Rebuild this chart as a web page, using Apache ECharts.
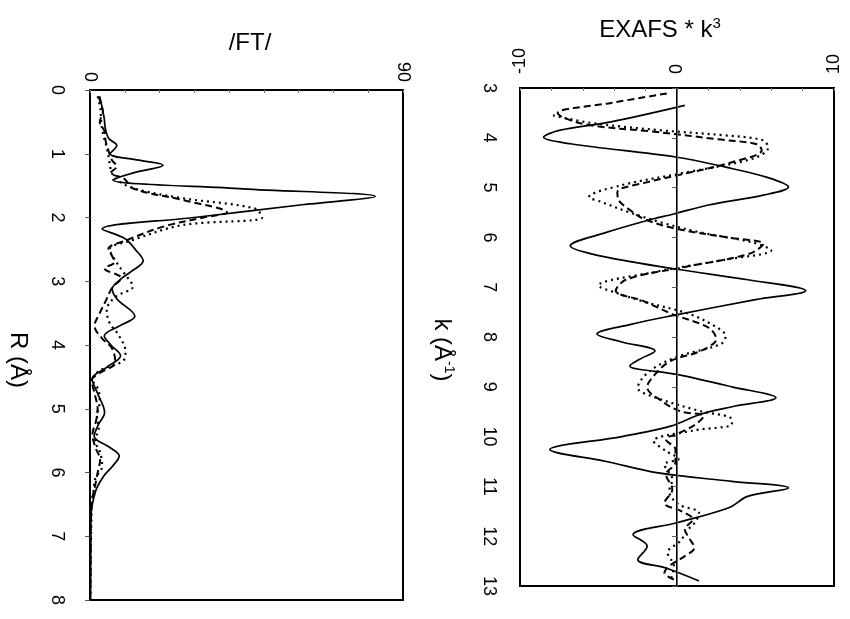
<!DOCTYPE html>
<html>
<head>
<meta charset="utf-8">
<script src="https://cdn.jsdelivr.net/npm/echarts@6/dist/echarts.min.js"></script>
<style>
html,body{margin:0;padding:0;background:#fff;}
#chart{width:850px;height:619px;}
</style>
</head>
<body>
<div id="chart"></div>
<script>
// ---- Left panel: |FT| vs R (Å) ----
const rSolid = [0.1,0.25,0.45,0.6,0.76,0.87,1.0,1.1,1.18,1.3,1.41,1.55,1.67,1.8,2.0,2.18,2.33,2.5,2.68,2.85,2.96,3.12,3.28,3.55,3.7,3.86,4.0,4.17,4.35,4.53,4.75,5.06,5.25,5.43,5.6,5.74,5.9,6.05,6.25,6.42,6.6,7.0,7.5,8.0];
const ftSolid = [2.8,3.4,4.1,4.4,5.4,7.7,5.8,14,21,12.5,6.6,44,82,61,30,3.5,10,13,15.3,11.8,9,6.4,7.8,12.9,8.5,4.1,6,8.8,4.8,0.6,2.1,4.2,2.4,1.2,5.5,8.4,6.5,4,1.9,1.0,0.4,0.2,0.2,0.1];

const rDash = [0.1,0.2,0.35,0.5,0.65,0.8,0.95,1.1,1.2,1.3,1.39,1.55,1.73,1.92,2.0,2.13,2.36,2.49,2.6,2.7,2.8,2.95,3.1,3.3,3.5,3.7,3.9,4.05,4.27,4.45,4.55,4.8,5.0,5.2,5.4,5.6,5.8,6.0,6.2,6.4,6.6,8.0];
const ftDash = [2.4,3.1,3.7,2.8,4.2,4.5,5.3,6.3,7.7,5.9,9.8,12.6,27,39.4,32.7,21.9,10.3,5.3,6.3,7.1,4.2,9,6.4,4.6,2.8,1.3,3.5,6.3,7.3,2.5,0.5,1.5,2.2,1.7,0.7,1.5,2.9,2.2,1.5,0.7,0.3,0.1];

const rDot = [0.1,0.3,0.5,0.7,0.9,1.1,1.25,1.4,1.55,1.7,1.86,2.0,2.12,2.36,2.5,2.65,2.85,3.0,3.08,3.25,3.45,3.65,3.85,4.1,4.25,4.4,4.55,4.7,4.9,5.1,5.3,5.5,5.7,5.9,6.1,6.3,6.5,8.0];
const ftDot = [2.2,3.0,3.2,3.8,4.8,5.5,6.0,7.5,13,27,47.5,49.5,26.5,11.9,5.6,7,9.5,11.6,12.4,7.2,4.8,5.6,8.3,10.2,9.5,2.8,0.8,2.4,2.8,2.0,2.5,1.5,3.0,3.5,1.5,1.0,0.5,0.1];

// ---- Right panel: EXAFS * k^3 vs k (Å^-1) ----
const kSolid = [3.35,3.68,3.85,3.99,4.12,4.39,4.59,4.8,4.99,5.15,5.35,5.53,5.66,5.9,6.17,6.35,6.63,6.85,7.07,7.25,7.57,7.75,7.94,8.1,8.28,8.45,8.58,8.75,9.0,9.22,9.4,9.55,9.79,10.0,10.26,10.5,10.73,10.9,11.03,11.2,11.43,11.73,11.97,12.2,12.47,12.64,12.9];
const exSolid = [0.5,-4.2,-7.5,-8.5,-6.8,0,3.1,5.8,7.1,5.5,2.0,-0.2,-1.9,-4.5,-6.8,-5.2,-0.2,4.5,8.2,5.0,-0.3,-3.0,-5.1,-3.5,-1.4,-2.4,-3.0,0,3.5,6.3,3.5,1.5,-0.4,-3.5,-8.1,-4.5,-1.2,3.5,7.1,4.5,3.3,0,-2.8,-1.9,-2.5,-0.7,1.4];

const kDash = [3.11,3.3,3.5,3.6,3.75,3.87,4.03,4.13,4.25,4.49,4.72,4.9,5.09,5.26,5.45,5.63,5.83,6.0,6.13,6.33,6.6,6.84,7.07,7.27,7.54,7.81,8.04,8.28,8.48,8.75,9.01,9.28,9.49,9.59,9.75,9.92,10.06,10.26,10.52,10.76,11.06,11.33,11.5,11.66,11.87,12.05,12.23,12.4,12.6,12.74,12.87];
const exDash = [-0.65,-4.2,-7.6,-7.2,-5.5,-1.7,2.6,5.1,5.4,3.5,0.5,-2.0,-3.8,-3.7,-3.0,-2.1,0,3.2,5.5,4.6,0.4,-3.2,-3.9,-2.2,-0.3,2.0,2.5,1.5,-0.4,-1.4,-1.9,-1.0,0.2,1.7,1.2,0.2,-0.7,-0.1,-0.1,-0.7,-0.3,-0.8,0.3,1.0,0.5,0.8,1.1,0.5,-0.5,-0.8,-0.2];

const kDot = [3.55,3.7,3.85,3.95,4.05,4.2,4.42,4.7,4.95,5.19,5.29,5.5,5.7,5.9,6.1,6.26,6.45,6.7,6.97,7.1,7.3,7.54,7.8,7.98,8.14,8.41,8.7,9.02,9.2,9.49,9.62,9.75,9.88,10.09,10.29,10.45,10.56,10.86,11.1,11.36,11.53,11.7,11.87,12.1,12.33,12.6,12.87];
const exDot = [-7.9,-5.5,-1.0,3.0,5.5,5.8,4.8,0.5,-3.5,-5.6,-4.8,-3.0,-1.0,1.5,4.8,6.0,3.0,-1.5,-5.0,-4.0,-2.0,0.8,2.5,3.1,2.8,-0.1,-1.8,-2.5,-1.5,1.5,3.4,3.5,1.0,-1.5,-0.7,0.1,-0.8,-0.3,-0.5,0.1,1.4,1.2,0.7,0.2,-0.6,-0.2,-0.4];

// axis tick labels shown
const ftTickLabels = [0, 90];
const exTickLabels = [-10, 0, 10];

const FONT = "'Liberation Sans', Arial, sans-serif";
function pairs(xs, ys){ return xs.map((x,i)=>[x, ys[i]]); }

const chart = echarts.init(document.getElementById('chart'), null, {renderer:'canvas'});

const labelStyle = {fontFamily: FONT, fontSize: 18, fontWeight: 'normal', color: '#000'};

function lineSeries(xi, yi, data, type, width){
  return {
    type: 'line', xAxisIndex: xi, yAxisIndex: yi, data: data,
    showSymbol: false, smooth: 0.35, animation: false,
    lineStyle: {color: '#000', width: width, type: type}
  };
}

const option = {
  backgroundColor: '#fff',
  animation: false,
  grid: [
    {left: 90, top: 90, width: 313, height: 510, show: true, borderColor: '#000', borderWidth: 2, backgroundColor: 'transparent'},
    {left: 520, top: 88, width: 314, height: 498, show: true, borderColor: '#000', borderWidth: 2, backgroundColor: 'transparent'}
  ],
  xAxis: [
    {type: 'value', gridIndex: 0, position: 'top', min: 0, max: 90, interval: 10,
     axisLine: {show: true, lineStyle: {color: '#000', width: 2}},
     axisTick: {show: true, inside: true, length: 3, lineStyle: {color: '#777'}},
     splitLine: {show: false},
     axisLabel: Object.assign({rotate: -90, margin: 8,
       formatter: v => ftTickLabels.includes(v) ? String(v) : ''}, labelStyle)},
    {type: 'value', gridIndex: 1, position: 'top', min: -10, max: 10, interval: 2,
     axisLine: {show: true, lineStyle: {color: '#000', width: 2}},
     axisTick: {show: true, inside: true, length: 3, lineStyle: {color: '#777'}},
     splitLine: {show: false},
     axisLabel: Object.assign({rotate: -90, margin: 14,
       formatter: v => exTickLabels.includes(v) ? String(v) : ''}, labelStyle)}
  ],
  yAxis: [
    {type: 'value', gridIndex: 0, inverse: true, min: 0, max: 8, interval: 1,
     axisLine: {show: true, lineStyle: {color: '#000', width: 2}},
     axisTick: {show: true, inside: false, length: 5, lineStyle: {color: '#555'}},
     splitLine: {show: false},
     axisLabel: Object.assign({rotate: -90, margin: 24}, labelStyle)},
    {type: 'value', gridIndex: 1, inverse: true, min: 3, max: 13, interval: 1,
     axisLine: {show: true, lineStyle: {color: '#000', width: 2}},
     axisTick: {show: true, inside: false, length: 5, lineStyle: {color: '#555'}},
     splitLine: {show: false},
     axisLabel: Object.assign({rotate: -90, margin: 22}, labelStyle)}
  ],
  series: [
    lineSeries(0, 0, pairs(ftSolid, rSolid), 'solid', 1.7),
    lineSeries(0, 0, pairs(ftDash, rDash), [7, 4], 2),
    lineSeries(0, 0, pairs(ftDot, rDot), [2, 4], 2.2),
    Object.assign(lineSeries(1, 1, pairs(exSolid, kSolid), 'solid', 1.7), {
      markLine: {silent: true, symbol: 'none', animation: false,
        label: {show: false},
        lineStyle: {color: '#666', width: 1, type: 'solid'},
        data: [{xAxis: 0}]}
    }),
    lineSeries(1, 1, pairs(exDash, kDash), [7, 4], 2),
    lineSeries(1, 1, pairs(exDot, kDot), [2, 4], 2.2)
  ],
  graphic: [
    {type: 'text', x: 250, y: 43, style: {text: '/FT/', font: '24px ' + FONT, fill: '#000', textAlign: 'center', textVerticalAlign: 'middle'}},
    {type: 'text', x: 660, y: 30, style: {
      text: '{t|EXAFS * k}{s|3}', textAlign: 'center', textVerticalAlign: 'middle', fill: '#000',
      rich: {t: {fontSize: 24, fontFamily: FONT, lineHeight: 28, fill: '#000'},
             s: {fontSize: 15, fontFamily: FONT, lineHeight: 28, verticalAlign: 'top', fill: '#000'}}}},
    {type: 'text', x: 18, y: 360, rotation: -Math.PI/2, style: {text: 'R (Å)', font: '24px ' + FONT, fill: '#000', textAlign: 'center', textVerticalAlign: 'middle'}},
    {type: 'text', x: 442, y: 350, rotation: -Math.PI/2, style: {
      text: '{t|k (Å}{s|-1}{t|)}', textAlign: 'center', textVerticalAlign: 'middle', fill: '#000',
      rich: {t: {fontSize: 24, fontFamily: FONT, lineHeight: 28, fill: '#000'},
             s: {fontSize: 14, fontFamily: FONT, lineHeight: 28, verticalAlign: 'top', fill: '#000'}}}}
  ]
};
chart.setOption(option);
</script>
</body>
</html>
